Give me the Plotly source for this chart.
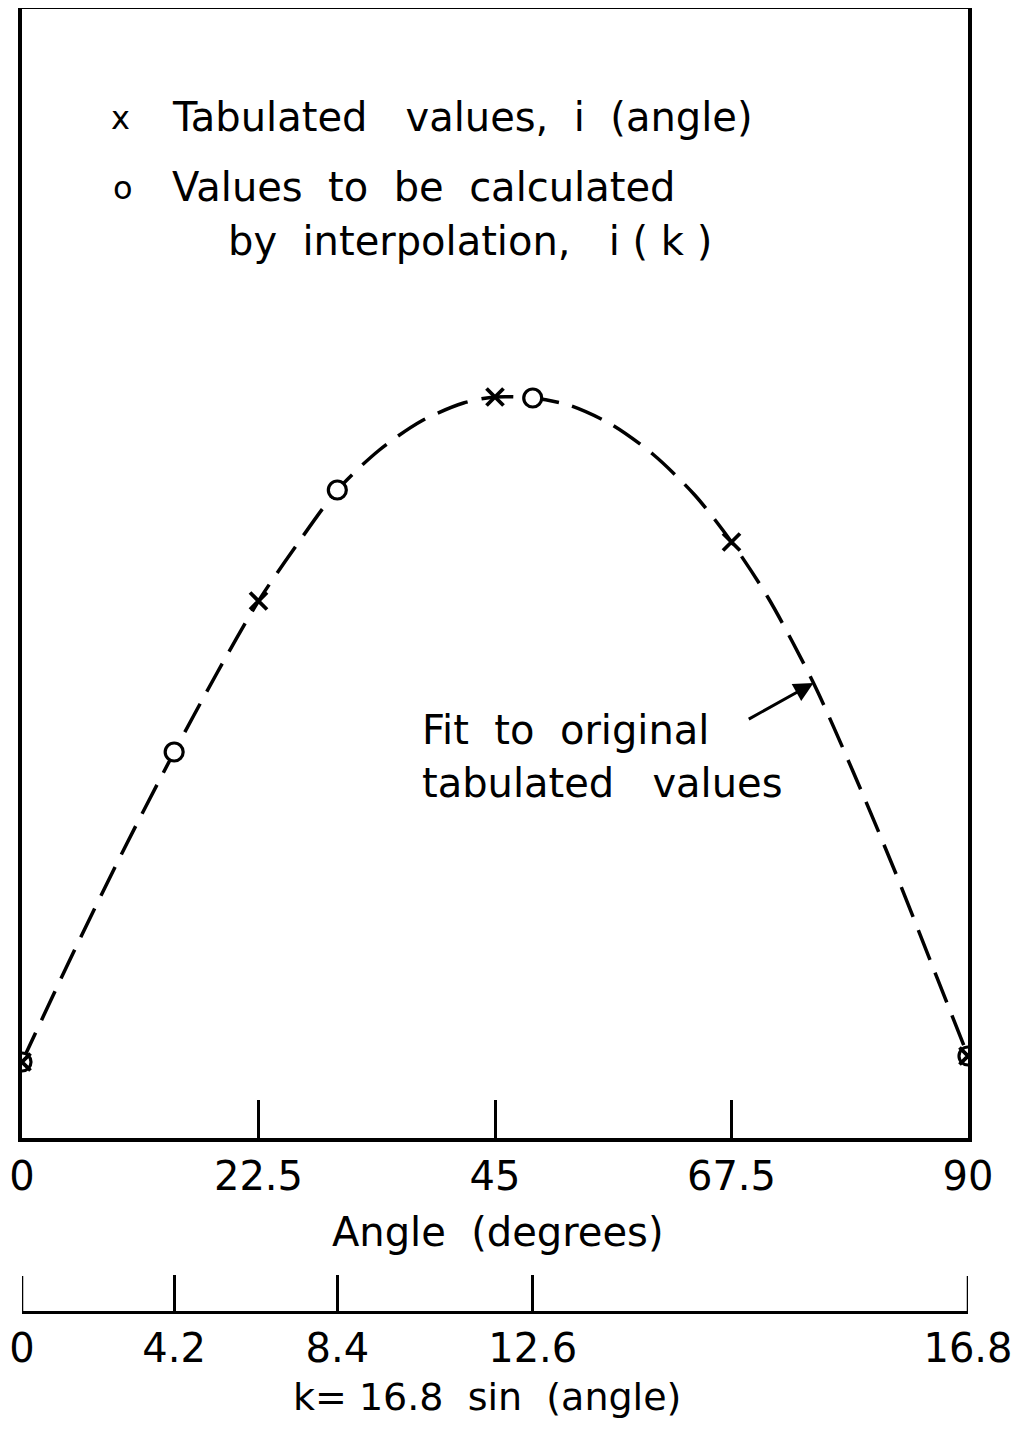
import numpy as np
import plotly.graph_objects as go

# ---------------- data ----------------
angle_tab = [0, 22.5, 45, 67.5, 90]            # tabulated angles (deg)
i_tab = [7.6, 53.7, 74.1, 59.6, 8.2]           # i(angle), arbitrary units

k_values = [0, 4.2, 8.4, 12.6, 16.8]           # k positions for interpolation
i_k = [7.6, 38.6, 64.8, 74.0, 8.2]             # i(k), arbitrary units

fit_angle = [0, 5, 10, 14.48, 18.5, 22.5, 26, 30, 34, 38, 42, 45, 48.6,
             52, 56, 60, 64, 67.5, 71, 75.3, 79, 83, 86.5, 90]
fit_i = [7.6, 18.8, 29.5, 38.6, 46.4, 53.7, 59.1, 64.8, 68.8, 71.7, 73.5,
         74.1, 74.0, 73.3, 71.4, 68.4, 64.3, 59.6, 54.0, 45.5, 36.8, 26.8,
         17.5, 8.2]

angle_ticks = [0, 22.5, 45, 67.5, 90]
angle_labels = ["0", "22.5", "45", "67.5", "90"]
k_labels = ["0", "4.2", "8.4", "12.6", "16.8"]

K_MAX = 16.8
k_angle = list(np.degrees(np.arcsin(np.array(k_values) / K_MAX)))

# ---------------- figure ----------------
OFF = 8                      # page body margin
W, H = 1031 - 2 * OFF, 1433 - 2 * OFF
X0, X1 = 22, 968             # plot area, page pixels
Y_TOP, Y_AX, Y_K = 9, 1138, 1312
L = X0 - OFF
R = W - (X1 - OFF)
T = Y_TOP - OFF
B = H - (Y_K - OFF)
FONT = "DejaVu Sans"

def px(x):
    return (x - X0) / (X1 - X0)

def py(y):
    return (Y_K - y) / (Y_K - Y_TOP)

fig = go.Figure()

fig.add_trace(go.Scatter(
    x=fit_angle, y=fit_i, mode="lines",
    line=dict(color="black", width=3.5, dash="32px,14px", shape="spline", smoothing=0.8),
    hoverinfo="skip", showlegend=False))

fig.add_trace(go.Scatter(
    x=k_angle, y=i_k, mode="markers",
    marker=dict(symbol="circle", size=18, color="white",
                line=dict(color="black", width=3.2)),
    showlegend=False))

fig.add_trace(go.Scatter(
    x=angle_tab, y=i_tab, mode="markers",
    marker=dict(symbol="x-thin", size=17, color="black",
                line=dict(color="black", width=3.8)),
    showlegend=False))

# invisible trace to carry the k axis
fig.add_trace(go.Scatter(
    x=k_angle, y=[None] * len(k_angle), xaxis="x2", mode="markers",
    marker=dict(opacity=0), hoverinfo="skip", showlegend=False))

y_bottom = (Y_K - Y_AX) / (Y_K - Y_TOP)
y_top_val = (Y_AX - Y_TOP) / 10.0
XR = [0, 90]
K_TICKLEN = 36

fig.update_layout(
    width=W, height=H,
    margin=dict(l=L, r=R, t=T, b=B),
    paper_bgcolor="white", plot_bgcolor="white",
    font=dict(family=FONT, color="black", size=40),
    xaxis=dict(
        range=XR, showgrid=False, zeroline=False,
        showline=True, mirror=True, linecolor="black", linewidth=4,
        tickvals=angle_ticks, ticktext=angle_labels,
        ticks="inside", ticklen=38, tickwidth=3, tickcolor="black",
        tickfont=dict(size=40, family=FONT), automargin=False,
    ),
    yaxis=dict(
        range=[0, y_top_val], domain=[y_bottom, 1],
        showgrid=False, zeroline=False, showticklabels=False,
        showline=True, mirror=True, linecolor="black", linewidth=4,
        ticks="", automargin=False,
    ),
    xaxis2=dict(
        range=XR, overlaying="x", anchor="free", position=0, side="bottom",
        showgrid=False, zeroline=False,
        showline=True, linecolor="black", linewidth=3,
        tickvals=k_angle, ticktext=k_labels,
        ticks="inside", ticklen=K_TICKLEN, tickwidth=2.5, tickcolor="black",
        tickfont=dict(size=40, family=FONT), automargin=False,
    ),
)

# end ticks of the k axis (plotly hides inside ticks at the axis ends)
for kv in (k_angle[0], k_angle[-1]):
    fig.add_shape(type="line", xref="x2", yref="paper",
                  x0=kv, x1=kv, y0=0, y1=K_TICKLEN / (Y_K - Y_TOP),
                  line=dict(color="black", width=2.5))

def text(x, y, s, size=40, xanchor="left"):
    fig.add_annotation(x=px(x), y=py(y), xref="paper", yref="paper",
                       text=s, showarrow=False, xanchor=xanchor, yanchor="middle",
                       font=dict(size=size, family=FONT, color="black"))

text(120, 118, "x", size=32, xanchor="center")
text(170, 117, "Tabulated   values,  i  (angle)")
text(123, 188, "o", size=32, xanchor="center")
text(170, 187, "Values  to  be  calculated")
text(226, 241, "by  interpolation,   i ( k )")
text(420, 730, "Fit  to  original")
text(420, 783, "tabulated   values")
text(497, 1232, "Angle  (degrees)", size=40, xanchor="center")
text(487, 1397, "k= 16.8  sin  (angle)", size=38, xanchor="center")

# arrow to the fitted curve
fig.add_annotation(x=75.3, y=45.5, xref="x", yref="y",
                   ax=69.0, ay=41.8, axref="x", ayref="y",
                   text="", showarrow=True, arrowhead=2, arrowsize=1.3,
                   arrowwidth=3, arrowcolor="black")

fig.write_html("out.html")
